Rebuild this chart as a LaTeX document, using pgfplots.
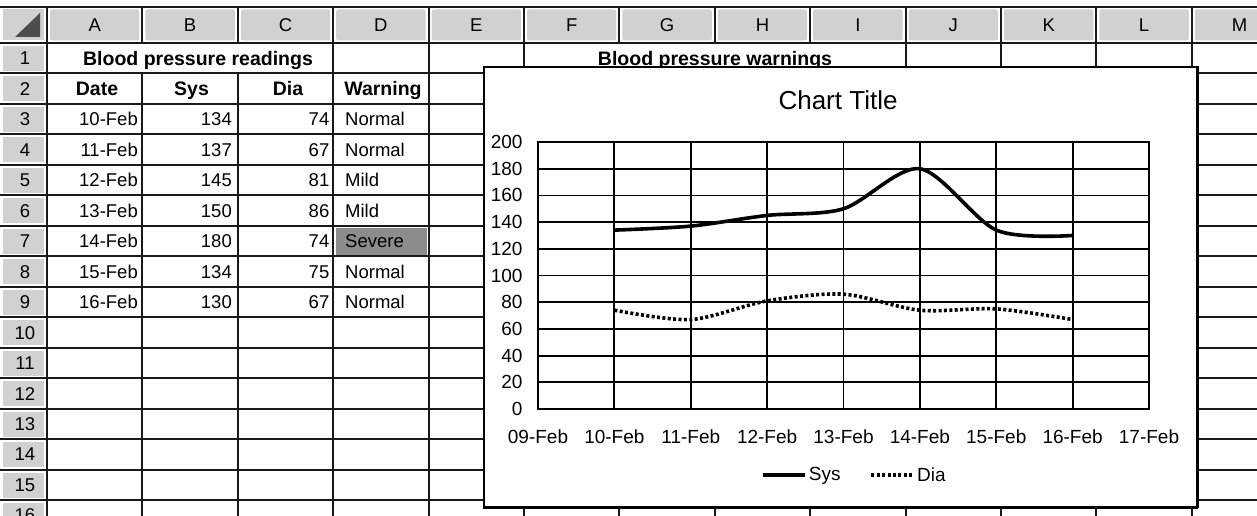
\documentclass[border=0pt]{standalone}
\usepackage{fontspec}
\setmainfont{Liberation Sans}
\usepackage{pgfplots}
\pgfplotsset{compat=1.18}
\newcommand{\cf}{\fontsize{18.5}{20}\selectfont}
\newcommand{\bfc}{\fontsize{19.5}{21}\selectfont\bfseries}
\begin{document}
\begin{tikzpicture}
\useasboundingbox (0,0) rectangle (1257pt,-516pt);
\clip (0,0) rectangle (1257pt,-516pt);
\begin{scope}[x=1pt,y=-1pt]
\fill[white] (0,0) rectangle (1257,516);
% header fills
\foreach \i in {0,...,12} {\pgfmathsetmacro\xl{47+95.4*\i}
  \fill[gray!36, rounded corners=2pt] (\xl+3,9.5) rectangle (\xl+92.4,40.5);}
\foreach \k in {1,...,16} {\pgfmathsetmacro\yt{43+30.47*(\k-1)}
  \fill[gray!36] (3,\yt+3) rectangle (44,\yt+28);}
\fill[gray!36] (3,9.5) rectangle (44,40.5);
\fill[black!70] (15,37) -- (40,13) -- (40,37) -- cycle;
\fill[black!45] (335.5,228) rectangle (426.5,255);
% grid lines
\begin{scope}[line width=2pt, black!90]
\draw (0,7) -- (1257,7);
\foreach \k in {0,...,16} {\pgfmathsetmacro\yy{43+30.47*\k} \draw (0,\yy) -- (1257,\yy);}
\foreach \x in {47,142.4,237.8,333.2,428.6,524,619.4,714.8,810.2,905.6,1001,1096.4,1191.8}
  {\draw (\x,7) -- (\x,43); \draw (\x,73.5) -- (\x,516);}
\foreach \x in {47,333.2,428.6,524,905.6,1001,1096.4,1191.8} {\draw (\x,43) -- (\x,73.5);}
\end{scope}
% column letters
\foreach \c [count=\i from 0] in {A,B,C,D,E,F,G,H,I,J,K,L,M}
  {\node[anchor=base, inner sep=0pt, font=\cf] at (47+95.4*\i+47.7, 31.5) {\c};}
% row numbers
\foreach \k in {1,...,16}
  {\node[anchor=base, inner sep=0pt, font=\cf] at (25, 43+30.47*\k-15.2+6.6) {\k};}
% row 1 titles
\node[anchor=base, inner sep=0pt, font=\bfc] at (198, 65.4) {Blood pressure readings};
\node[anchor=base, inner sep=0pt, font=\bfc] at (715, 65.4) {Blood pressure warnings};
% row 2 headers
\node[anchor=base, inner sep=0pt, font=\bfc] at (97, 95.9) {Date};
\node[anchor=base, inner sep=0pt, font=\bfc] at (191.5, 95.9) {Sys};
\node[anchor=base, inner sep=0pt, font=\bfc] at (288, 95.9) {Dia};
\node[anchor=base, inner sep=0pt, font=\bfc] at (383, 95.9) {Warning};
% data rows
\foreach \d/\s/\di/\w [count=\k from 3] in {10-Feb/134/74/Normal,11-Feb/137/67/Normal,12-Feb/145/81/Mild,13-Feb/150/86/Mild,14-Feb/180/74/Severe,15-Feb/134/75/Normal,16-Feb/130/67/Normal}
{
  \pgfmathsetmacro\yb{43+30.47*\k-15.2+6.6}
  \node[anchor=base east, inner sep=0pt, font=\cf] at (138, \yb) {\d};
  \node[anchor=base east, inner sep=0pt, font=\cf] at (232, \yb) {\s};
  \node[anchor=base east, inner sep=0pt, font=\cf] at (329.5, \yb) {\di};
  \node[anchor=base west, inner sep=0pt, font=\cf] at (345, \yb) {\w};
}
% chart box
\draw[fill=white, line width=2pt] (484,67) rectangle (1197,507);
\draw[line width=3pt] (1197,66) -- (1197,508) (483,507) -- (1198,507);
\node[anchor=base, inner sep=0pt, font=\fontsize{26}{28}\selectfont] at (838, 110) {Chart Title};
\end{scope}
\begin{axis}[
  at={(538pt,-409pt)}, anchor=south west,
  scale only axis, width=611pt, height=267pt,
  xmin=0, xmax=8, ymin=0, ymax=200,
  xtick={0,...,8},
  xticklabels={09-Feb,10-Feb,11-Feb,12-Feb,13-Feb,14-Feb,15-Feb,16-Feb,17-Feb},
  ytick={0,20,...,200},
  grid=major,
  major grid style={black, line width=1.8pt},
  axis line style={black, line width=1.8pt},
  major tick length=0pt,
  tick label style={font=\fontsize{19}{20}\selectfont},
  /pgf/number format/assume math mode=true,
  yticklabel style={xshift=-12pt},
  xticklabel style={yshift=-17pt},
  legend style={at={(0.518,-0.247)}, anchor=center, draw=none, fill=none,
    font=\fontsize{19}{20}\selectfont, /tikz/every even column/.append style={column sep=27pt}},
  legend columns=2,
  legend image code/.code={\draw[#1, line width=3.6pt] (0pt,0pt) -- (42pt,0pt);},
]
\addplot[black, line width=3.6pt, smooth, tension=0.5] coordinates {(1,134)(2,137)(3,145)(4,150)(5,180)(6,134)(7,130)};
\addlegendentry{Sys}
\addplot[black, line width=3.6pt, dash pattern=on 3pt off 2.4pt, smooth, tension=0.5] coordinates {(1,74)(2,67)(3,81)(4,86)(5,74)(6,75)(7,67)};
\addlegendentry{Dia}
\end{axis}
\end{tikzpicture}
\end{document}
